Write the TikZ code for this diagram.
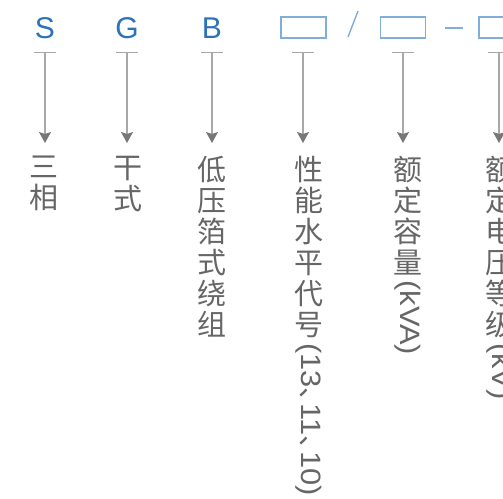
\documentclass[tikz,border=0pt]{standalone}
\usepackage{fontspec}
\setmainfont{Liberation Sans}
\newfontfamily\cjk{Noto Sans CJK SC}
\newfontfamily\latw[FakeStretch=1.1]{Liberation Sans}
\usetikzlibrary{arrows.meta}
\definecolor{lblue}{HTML}{2B73B9}
\definecolor{bblue}{HTML}{7FAEDB}
\definecolor{lgray}{HTML}{A8A8A8}
\definecolor{agray}{HTML}{777777}
\definecolor{tgray}{HTML}{666666}
\newcommand{\dun}{\makebox[16pt][l]{\cjk 、}}
\begin{document}
\begin{tikzpicture}[x=1pt,y=-1pt,
 letter/.style={font=\fontsize{30}{30}\selectfont, text=lblue, inner sep=0pt, anchor=base},
 codebox/.style={draw=bblue, line width=1.3pt, minimum width=45pt, minimum height=21pt, inner sep=0pt},
 sepline/.style={draw=bblue, line width=1.4pt},
 tbar/.style={draw=lgray, line width=1pt},
 arr/.style={draw=lgray, line width=1.2pt, -{Stealth[length=11pt,width=12pt,inset=2pt,color=agray]}},
 vt/.style={font=\cjk\fontsize{29}{31}\selectfont, text=tgray, align=center, inner sep=0pt, anchor=north},
 vl/.style={font=\latw\fontsize{28}{31}\selectfont, text=tgray, inner sep=0pt, rotate=-90, anchor=west},
]
\useasboundingbox (0,0) rectangle (503,498);

% header letters and boxes
\node[letter] (S) at (45,38.5) {S};
\node[letter] (G) at (127,38.5) {G};
\node[letter] (B) at (212,38.5) {B};
\node[codebox] (b1) at (303.5,27.5) {};
\node[codebox] (b2) at (403,27.5) {};
\node[codebox] (b3) at (501.5,27.5) {};
\coordinate (sl1) at (348,37);
\coordinate (sl2) at (358,11);
\draw[sepline] (sl1) -- (sl2);
\coordinate (da1) at (445,28);
\coordinate (da2) at (463,28);
\draw[sepline] (da1) -- (da2);

% connector start points (T-bars) and arrow tips
\foreach \n/\x in {1/45,2/127,3/212,4/303,5/403,6/499}{
  \coordinate (s\n) at (\x,52);
  \coordinate (e\n) at (\x,143);
  \draw[tbar] ([xshift=-11pt]s\n) -- ([xshift=11pt]s\n);
  \draw[arr] (s\n) -- (e\n);
}

% vertical texts
\node[vt] (t1) at (44,156) {三\\相};
\node[vt] (t2) at (128,156) {干\\式};
\node[vt] (t3) at (212,156) {低\\压\\箔\\式\\绕\\组};
\node[vt] (t4) at (309,156) {性\\能\\水\\平\\代\\号};
\node[vl] (t4b) at ([yshift=-5pt]t4.south) {(13\dun11\dun10)};
\node[vt] (t5) at (408,156) {额\\定\\容\\量};
\node[vl] (t5b) at ([yshift=-5pt]t5.south) {(kVA)};
\node[vt] (t6) at (500,156) {额\\定\\电\\压\\等\\级};
\node[vl] (t6b) at ([yshift=-5pt]t6.south) {(kV)};
\end{tikzpicture}
\end{document}
